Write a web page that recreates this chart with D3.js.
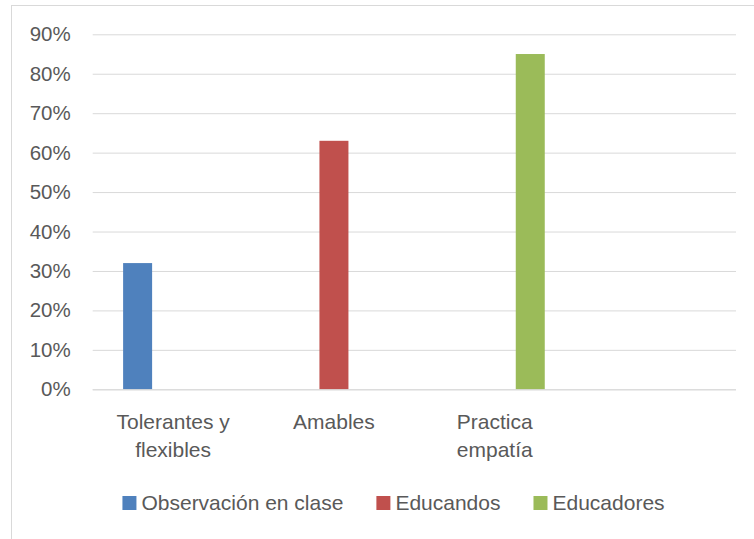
<!DOCTYPE html>
<html>
<head>
<meta charset="utf-8">
<script src="https://cdn.jsdelivr.net/npm/d3@7"></script>
<style>
  html, body { margin: 0; padding: 0; background: #fff; }
  svg { display: block; }
  text { font-family: "Liberation Sans", Arial, sans-serif; fill: #595959; }
</style>
</head>
<body>
<svg id="chart" width="754" height="539"></svg>
<script>
// ---- data ----
const categories = [["Tolerantes y", "flexibles"], ["Amables"], ["Practica", "empatía"], [""]];
const seriesNames = ["Observación en clase", "Educandos", "Educadores"];
const observacion = [0.32, null, null, null];
const educandos   = [null, 0.63, null, null];
const educadores  = [null, null, 0.85, null];
const seriesColors = ["#4F81BD", "#C0504D", "#9BBB59"];
const yTicks = [0, 0.1, 0.2, 0.3, 0.4, 0.5, 0.6, 0.7, 0.8, 0.9];

const seriesValues = [observacion, educandos, educadores];

const svg = d3.select("#chart");

// chart border
svg.append("rect")
  .attr("x", 11.5).attr("y", 5.5)
  .attr("width", 800).attr("height", 600)
  .attr("fill", "none").attr("stroke", "#D9D9D9").attr("stroke-width", 1);

const pLeft = 92.7, pRight = 736, pTop = 34.3, pBottom = 389.3;

const catKeys = categories.map((c, i) => i);
const x = d3.scaleBand().domain(catKeys).range([pLeft, pRight]).padding(0);
const y = d3.scaleLinear().domain([0, 0.9]).range([pBottom, pTop]);
const stride = 35.5, barW = 29;
const pi = (stride - barW) / stride;
const xSub = d3.scaleBand().domain(d3.range(seriesNames.length))
  .range([-stride * 1.5, stride * 1.5]).paddingInner(pi).paddingOuter(pi / 2);

// gridlines + y labels
const yAxis = d3.axisLeft(y).tickValues(yTicks).tickFormat(d3.format(".0%"))
  .tickSize(-(pRight - pLeft)).tickPadding(22);
const gy = svg.append("g").attr("transform", `translate(${pLeft},0)`).call(yAxis);
gy.select(".domain").remove();
gy.selectAll(".tick line").attr("stroke", "#D9D9D9").attr("stroke-width", 1);
gy.selectAll(".tick text")
  .style("font-family", '"Liberation Sans", Arial, sans-serif')
  .style("font-size", "20.5px").attr("fill", "#595959");

// bars
seriesValues.forEach((vals, s) => {
  svg.append("g").selectAll("rect")
    .data(vals.map((v, i) => ({ v, i })).filter(d => d.v != null))
    .join("rect")
    .attr("x", d => x(d.i) + x.bandwidth() / 2 + xSub(s))
    .attr("width", xSub.bandwidth())
    .attr("y", d => y(d.v))
    .attr("height", d => y(0) - y(d.v))
    .attr("fill", seriesColors[s]);
});

// x axis (category labels)
const xAxis = d3.axisBottom(x).tickSize(0).tickFormat(() => "");
const gx = svg.append("g").attr("transform", `translate(0,${pBottom})`).call(xAxis);
gx.select(".domain").attr("stroke", "#D9D9D9").attr("d", `M${pLeft},0.5H${pRight}`);
gx.selectAll(".tick").each(function (d) {
  const t = d3.select(this).append("text")
    .attr("text-anchor", "middle")
    .style("font-size", "21px")
    .attr("fill", "#595959");
  categories[d].forEach((line, j) => {
    t.append("tspan").attr("x", 0).attr("y", 40 + j * 28).text(line);
  });
});

// legend
const legend = svg.append("g");
const items = seriesNames.map((name, s) => {
  const g = legend.append("g");
  g.append("rect").attr("width", 14).attr("height", 14).attr("y", -14).attr("fill", seriesColors[s]);
  const t = g.append("text").attr("x", 19).attr("y", 0).style("font-size", "21px").text(name);
  return { g, w: 19 + t.node().getComputedTextLength() };
});
const gap = 33;
const total = d3.sum(items, d => d.w) + gap * (items.length - 1);
let cx = 393.5 - total / 2;
items.forEach(it => { it.g.attr("transform", `translate(${cx},510)`); cx += it.w + gap; });
</script>
</body>
</html>
